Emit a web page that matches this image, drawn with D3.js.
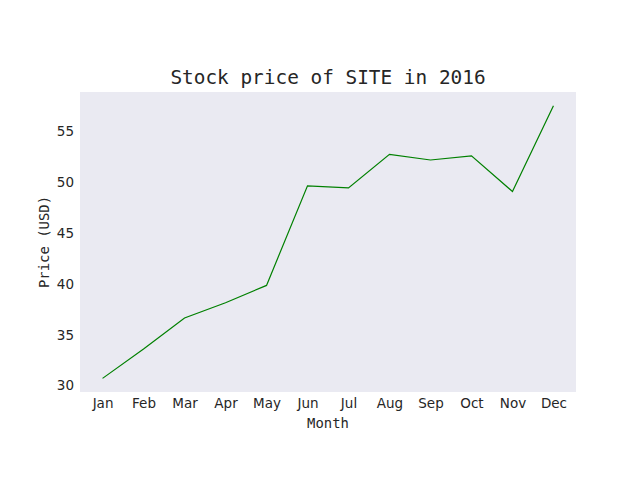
<!DOCTYPE html>
<html>
<head>
<meta charset="utf-8">
<script src="https://cdn.jsdelivr.net/npm/d3@7"></script>
<style>
    body { margin: 0; background: #fff; }
    svg { display: block; }
</style>
</head>
<body>
<svg id="chart" width="640" height="480"></svg>
<script>
// Data
const months = ["Jan", "Feb", "Mar", "Apr", "May", "Jun", "Jul", "Aug", "Sep", "Oct", "Nov", "Dec"];
const prices = [30.7, 33.6, 36.65, 38.15, 39.85, 49.65, 49.45, 52.75, 52.2, 52.6, 49.1, 57.55];
const yTicks = [30, 35, 40, 45, 50, 55];

const margin = { top: 92, right: 64, bottom: 88, left: 80 };
const width = 640, height = 480;
const innerWidth = width - margin.left - margin.right;
const innerHeight = height - margin.top - margin.bottom;

const textColor = "#262626";
const monoFont = "'DejaVu Sans Mono', monospace";
const sansFont = "'DejaVu Sans', sans-serif";

const svg = d3.select("#chart");
const innerChart = svg.append("g")
    .attr("transform", `translate(${margin.left},${margin.top})`);

// Background of the axes
innerChart.append("rect")
    .attr("width", innerWidth)
    .attr("height", innerHeight)
    .attr("fill", "#eaeaf2");

// Scales with matplotlib-like 5% margins
const n = months.length;
const xPad = (n - 1) * 0.05;
const xScale = d3.scaleLinear()
    .domain([-xPad, n - 1 + xPad])
    .range([0, innerWidth]);

const yMin = d3.min(prices), yMax = d3.max(prices);
const yPad = (yMax - yMin) * 0.05;
const yScale = d3.scaleLinear()
    .domain([yMin - yPad, yMax + yPad])
    .range([innerHeight, 0]);

// Axes
const xAxis = d3.axisBottom(xScale)
    .tickValues(d3.range(n))
    .tickFormat(i => months[i])
    .tickSize(0)
    .tickPadding(6);

const yAxis = d3.axisLeft(yScale)
    .tickValues(yTicks)
    .tickFormat(d3.format("d"))
    .tickSize(0)
    .tickPadding(6);

const xAxisGroup = innerChart.append("g")
    .attr("transform", `translate(0,${innerHeight})`)
    .call(xAxis);
const yAxisGroup = innerChart.append("g")
    .call(yAxis);

[xAxisGroup, yAxisGroup].forEach(g => {
    g.select(".domain").remove();
    g.selectAll("text")
        .attr("fill", textColor)
        .style("font-family", sansFont)
        .style("font-size", "13.5px");
});

// Line
const lineGenerator = d3.line()
    .x((d, i) => xScale(i))
    .y(d => yScale(d));

innerChart.append("path")
    .datum(prices)
    .attr("d", lineGenerator)
    .attr("fill", "none")
    .attr("stroke", "green")
    .attr("stroke-width", 1.2);

// Title and labels
svg.append("text")
    .attr("x", margin.left + innerWidth / 2)
    .attr("y", margin.top - 8.3)
    .attr("text-anchor", "middle")
    .attr("fill", textColor)
    .style("font-family", monoFont)
    .style("font-size", "19.4px")
    .text("Stock price of SITE in 2016");

svg.append("text")
    .attr("x", margin.left + innerWidth / 2)
    .attr("y", 428)
    .attr("text-anchor", "middle")
    .attr("fill", textColor)
    .style("font-family", monoFont)
    .style("font-size", "13.9px")
    .text("Month");

svg.append("text")
    .attr("transform", `translate(49,${margin.top + innerHeight / 2}) rotate(-90)`)
    .attr("text-anchor", "middle")
    .attr("fill", textColor)
    .style("font-family", monoFont)
    .style("font-size", "13.9px")
    .text("Price (USD)");
</script>
</body>
</html>
